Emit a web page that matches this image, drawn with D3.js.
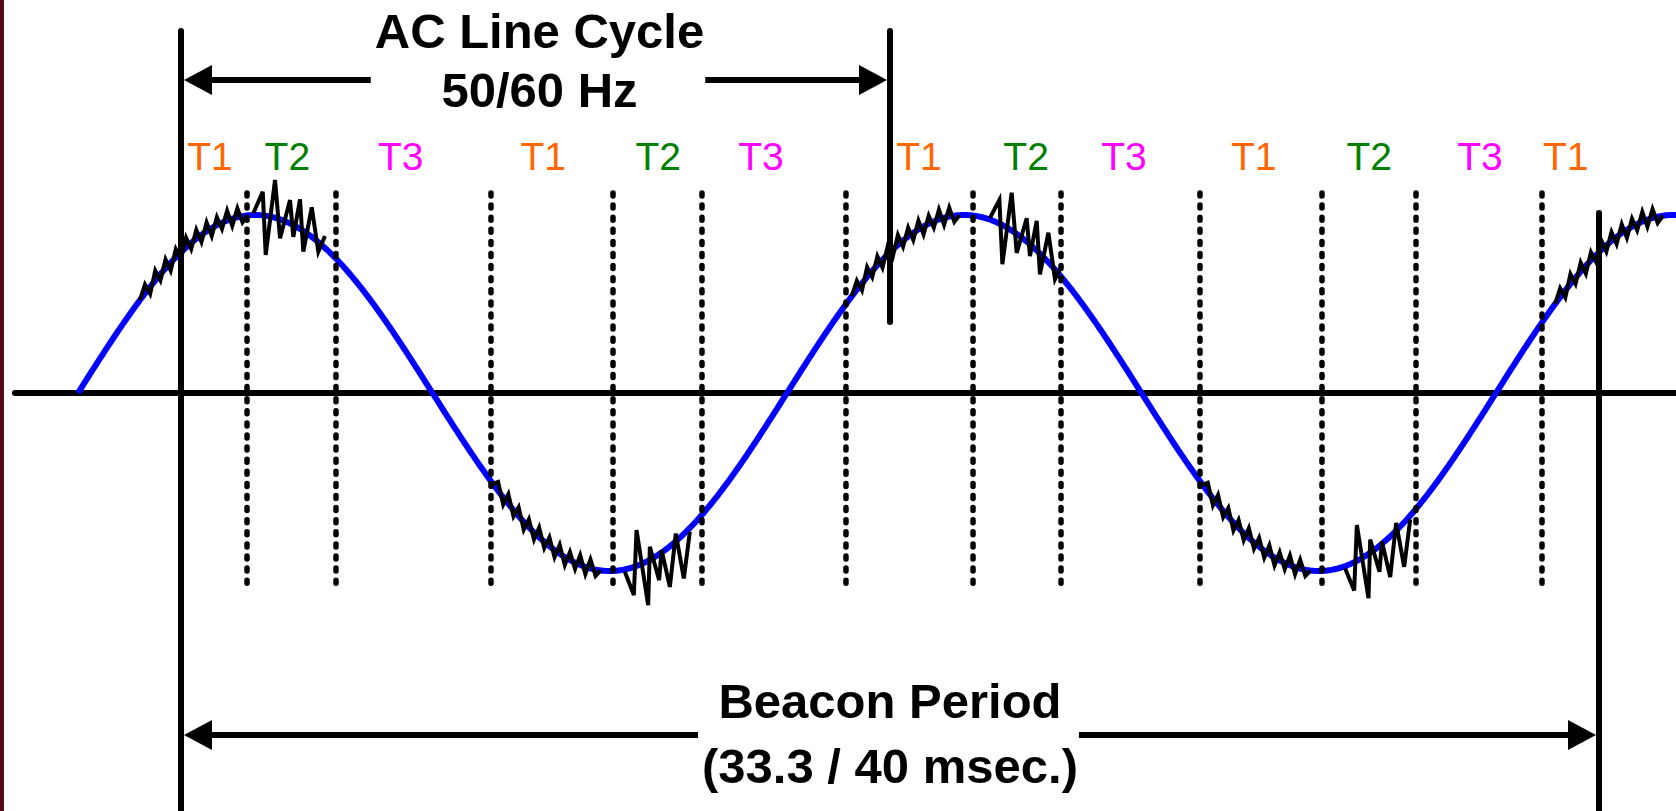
<!DOCTYPE html>
<html>
<head>
<meta charset="utf-8">
<script src="https://cdn.jsdelivr.net/npm/d3@7"></script>
<style>
    body { margin: 0; background: #fff; }
    svg { display: block; }
    text { font-family: "Liberation Sans", Arial, sans-serif; }
</style>
</head>
<body>
<div id="vis_canvas"></div>
<script>
// time is counted in AC line cycles, 0 = start of the beacon period
var beaconMarks = [0, 1, 2];
var slotLines = [0.0931, 0.2186, 0.4372, 0.6093, 0.7348, 0.9379,
                 1.1171, 1.2412, 1.4372, 1.6093, 1.7419, 1.9196];
var slotLabels = ['T1','T2','T3','T1','T2','T3','T1','T2','T3','T1','T2','T3','T1'];
var slotLabelTimes = [0.041, 0.150, 0.310, 0.511, 0.673, 0.818,
                      1.041, 1.192, 1.330, 1.513, 1.676, 1.832, 1.953];

// line voltage: phase already elapsed at beacon start, and drawn span
var acPhase = 0.1453;
var waveSpan = [-0.1453, 2.11];

// small ripple riding on the line (deviation from the sine, in amplitude units)
var rippleStarts = [-0.058, 0.440, 0.946, 1.441, 1.938];
var rippleSpan = 0.152;
var rippleDev = [0.00, 0.050, -0.040, 0.055, -0.035, 0.050, -0.045, 0.045, -0.040, 0.055, -0.035,
                 0.050, -0.040, 0.050, -0.045, 0.045, -0.035, 0.055, -0.040, 0.050, -0.035, 0.00];

// impulsive noise bursts in the T2 slots
var burstStarts = [0.102, 0.626, 1.141, 1.642];
var burstKinds = ['peak', 'trough', 'peak', 'trough'];
var peakBurstT = [0, 0.0133, 0.0175, 0.0306, 0.0377, 0.0518, 0.0564, 0.0659, 0.0705, 0.0824, 0.0917, 0.1011];
var peakBurstDev = [0.010, 0.133, -0.220, 0.212, -0.107, 0.131, -0.066, 0.166, -0.117, 0.166, -0.054, 0.067];
var troughBurstT = [0, 0.0127, 0.0165, 0.0329, 0.0353, 0.0484, 0.0518, 0.0635, 0.0719, 0.0832, 0.0917];
var troughBurstDev = [-0.013, -0.158, 0.202, -0.249, 0.074, -0.146, 0.014, -0.228, 0.044, -0.250, -0.021];

var topTitle = ['AC Line Cycle', '50/60 Hz'];
var bottomTitle = ['Beacon Period', '(33.3 / 40 msec.)'];

var width = 1676, height = 811;
var x = d3.scaleLinear().domain([0, 2]).range([181, 1599]);
var y = d3.scaleLinear().domain([-1, 1]).range([571, 215]);
var color = d3.scaleOrdinal()
    .domain(['T1', 'T2', 'T3'])
    .range(['#ff6600', '#008000', '#ff00ff']);

function line_v(t) {
    return Math.sin(2 * Math.PI * (t + acPhase));
}

var svg = d3.select("#vis_canvas").append("svg")
    .attr("width", width)
    .attr("height", height);

// dark edge on the left side
svg.append("rect")
    .attr("x", 0).attr("y", 0)
    .attr("width", 4).attr("height", height)
    .style("fill", "#56091c");

// zero axis
svg.append("line")
    .attr("x1", 15).attr("x2", width)
    .attr("y1", y(0)).attr("y2", y(0))
    .style("stroke", "#000")
    .style("stroke-width", 6)
    .style("stroke-linecap", "round");

var path = d3.line()
    .x(function (d) { return x(d.t); })
    .y(function (d) { return y(d.v); });

// AC line sine
var samples = d3.range(waveSpan[0], waveSpan[1], 0.002).concat([waveSpan[1]]);
svg.append("path")
    .datum(samples.map(function (t) { return {t: t, v: line_v(t)}; }))
    .attr("d", path)
    .style("fill", "none")
    .style("stroke", "#0000ff")
    .style("stroke-width", 6);

// ripple segments
var step = rippleSpan / (rippleDev.length - 1);
rippleStarts.forEach(function (s) {
    var pts = rippleDev.map(function (dv, i) {
        var t = s + i * step;
        return {t: t, v: line_v(t) + dv};
    });
    svg.append("path")
        .datum(pts)
        .attr("d", path)
        .style("fill", "none")
        .style("stroke", "#000")
        .style("stroke-width", 4);
});

// noise bursts
burstStarts.forEach(function (s, k) {
    var ts = burstKinds[k] == 'peak' ? peakBurstT : troughBurstT;
    var dv = burstKinds[k] == 'peak' ? peakBurstDev : troughBurstDev;
    var pts = ts.map(function (dt, i) {
        return {t: s + dt, v: line_v(s + dt) + dv[i]};
    });
    svg.append("path")
        .datum(pts)
        .attr("d", path)
        .style("fill", "none")
        .style("stroke", "#000")
        .style("stroke-width", 4);
});

// slot boundaries
svg.selectAll(".slot")
    .data(slotLines)
    .enter().append("line")
    .attr("class", "slot")
    .attr("x1", function (d) { return x(d); })
    .attr("x2", function (d) { return x(d); })
    .attr("y1", 193)
    .attr("y2", 585.5)
    .style("stroke", "#000")
    .style("stroke-width", 5.5)
    .style("stroke-linecap", "round")
    .style("stroke-dasharray", "3,9.1");

// beacon / line cycle marks
var markEnds = [[31, 811], [31, 322], [213, 811]];
svg.selectAll(".mark")
    .data(beaconMarks)
    .enter().append("line")
    .attr("class", "mark")
    .attr("x1", function (d) { return x(d); })
    .attr("x2", function (d) { return x(d); })
    .attr("y1", function (d, i) { return markEnds[i][0]; })
    .attr("y2", function (d, i) { return markEnds[i][1]; })
    .style("stroke", "#000")
    .style("stroke-width", 6)
    .style("stroke-linecap", "round");

// slot names
svg.selectAll(".slotLabel")
    .data(slotLabels)
    .enter().append("text")
    .attr("class", "slotLabel")
    .attr("x", function (d, i) { return x(slotLabelTimes[i]); })
    .attr("y", 170)
    .style("text-anchor", "middle")
    .style("font-size", "39px")
    .style("fill", function (d) { return color(d); })
    .text(function (d) { return d; });

// dimension arrow with a two line caption in the middle
function dimArrow(t0, t1, yArrow, lines, baselines, nudge) {
    var g = svg.append("g");
    var mid = (x(t0) + x(t1)) / 2 + nudge;
    var txt = g.selectAll("text")
        .data(lines)
        .enter().append("text")
        .attr("x", mid)
        .attr("y", function (d, i) { return baselines[i]; })
        .style("text-anchor", "middle")
        .style("font-size", "49px")
        .style("font-weight", "bold")
        .text(function (d) { return d; });
    var w = d3.max(txt.nodes(), function (n) { return n.getComputedTextLength(); });
    var tipL = x(t0) + 3, tipR = x(t1) - 3;
    var head = 28, half = 15;
    g.append("line")
        .attr("x1", tipL + head - 4).attr("x2", mid - w / 2 - 4)
        .attr("y1", yArrow).attr("y2", yArrow)
        .style("stroke", "#000").style("stroke-width", 6);
    g.append("line")
        .attr("x1", mid + w / 2 + 1).attr("x2", tipR - head + 4)
        .attr("y1", yArrow).attr("y2", yArrow)
        .style("stroke", "#000").style("stroke-width", 6);
    g.append("path")
        .attr("d", "M" + tipL + "," + yArrow + "L" + (tipL + head) + "," + (yArrow - half) +
                   "L" + (tipL + head) + "," + (yArrow + half) + "Z")
        .style("fill", "#000");
    g.append("path")
        .attr("d", "M" + tipR + "," + yArrow + "L" + (tipR - head) + "," + (yArrow - half) +
                   "L" + (tipR - head) + "," + (yArrow + half) + "Z")
        .style("fill", "#000");
}

dimArrow(0, 1, 80, topTitle, [48, 107], 4);
dimArrow(0, 2, 735, bottomTitle, [718, 783], 0);
</script>
</body>
</html>
